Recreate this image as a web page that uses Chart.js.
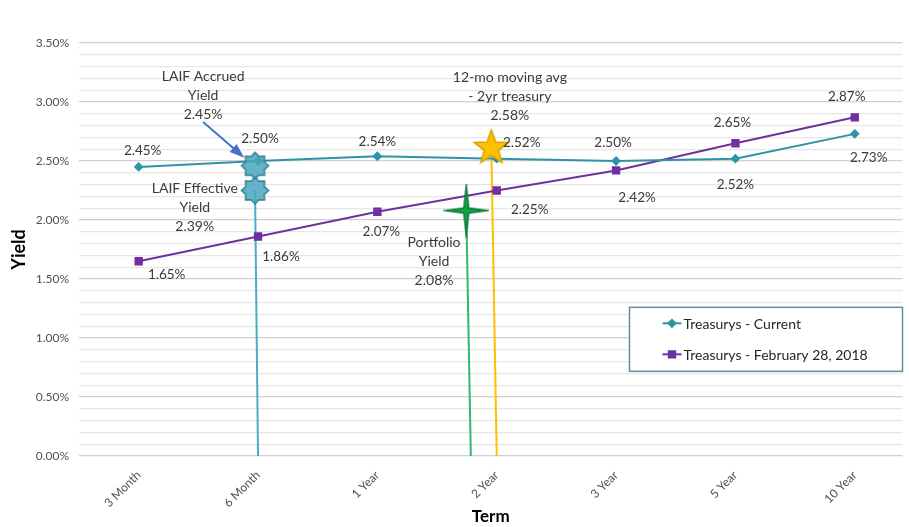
<!DOCTYPE html>
<html>
<head>
<meta charset="utf-8">
<script src="https://cdn.jsdelivr.net/npm/chart.js@4.4.0/dist/chart.umd.min.js"></script>
<style>
  html, body { margin: 0; padding: 0; background: #fff; }
  #wrap { width: 909px; height: 527px; }
</style>
</head>
<body>
<div id="wrap"><canvas id="yieldChart"></canvas></div>
<script>
var terms = ['3 Month', '6 Month', '1 Year', '2 Year', '3 Year', '5 Year', '10 Year'];
var currentYields = [2.45, 2.50, 2.54, 2.52, 2.50, 2.52, 2.73];
var feb2018Yields = [1.65, 1.86, 2.07, 2.25, 2.42, 2.65, 2.87];

// reference markers: label text, term position (index), yield where the marker sits
var laifAccrued = ['LAIF Accrued', 'Yield', '2.45%'];
var laifEffective = ['LAIF Effective', 'Yield', '2.39%'];
var portfolioYield = ['Portfolio', 'Yield', '2.08%'];
var movingAvg = ['12-mo moving avg', '- 2yr treasury', '2.58%'];
var laifTerm = [0.975, 0.975];
var laifMarkYield = [2.46, 2.25];
var portfolioTerm = 2.745, portfolioMarkYield = 2.08;
var avgTerm = 2.955, avgMarkYield = 2.61;

var TEAL = '#2e93aa';
var PURPLE = '#7030a0';
var FONT = 'Lato, "Open Sans", sans-serif';

// little canvases used as point styles for the stars
function starImage(n, rx, ry, inner, fill, stroke) {
  var c = document.createElement('canvas');
  c.width = Math.ceil(rx * 2 + 4);
  c.height = Math.ceil(ry * 2 + 4);
  var g = c.getContext('2d');
  var cx = c.width / 2, cy = c.height / 2;
  g.beginPath();
  for (var i = 0; i < n * 2; i++) {
    var a = -Math.PI / 2 + i * Math.PI / n;
    var ox = (i % 2 === 0) ? rx : inner;
    var oy = (i % 2 === 0) ? ry : inner;
    var px = cx + Math.cos(a) * ox, py = cy + Math.sin(a) * oy;
    if (i === 0) g.moveTo(px, py); else g.lineTo(px, py);
  }
  g.closePath();
  g.fillStyle = fill;
  g.fill();
  g.lineWidth = 1.5;
  g.strokeStyle = stroke;
  g.stroke();
  return c;
}
var sealStar = starImage(8, 13.5, 13.5, 10, 'rgba(75,165,190,0.85)', '#2f7f93');
var greenStar = starImage(4, 21, 25, 3.5, '#12a14a', '#0b7a35');
var goldStar = starImage(5, 18, 18, 7.5, '#ffc000', '#d9a000');

function pts(xs, ys) {
  return xs.map(function (x, i) { return { x: x, y: ys[i] }; });
}

// per-point label offsets in px
var currentLabelOffsets = [[4, -16], [2, -22], [0, -15], [25, -16], [-3, -18], [0, 26], [14, 24]];
var febLabelOffsets = [[28, 13], [23, 20], [4, 20], [33, 19], [21, 27], [-3, -21], [-8, -21]];

var notes = [
  { lines: laifAccrued, x: 0.54, y: 3.22 },
  { lines: laifEffective, x: 0.47, y: 2.27 },
  { lines: portfolioYield, x: 2.475, y: 1.81 },
  { lines: movingAvg, x: 3.11, y: 3.21 }
];

var overlayPlugin = {
  id: 'overlay',
  afterDatasetsDraw: function (chart) {
    var ctx = chart.ctx;
    var xs = chart.scales.x, ys = chart.scales.y;
    ctx.save();
    ctx.font = '13.5px ' + FONT;
    ctx.fillStyle = '#3a3a3a';
    ctx.textAlign = 'center';
    ctx.textBaseline = 'middle';

    // value labels
    [[0, currentLabelOffsets], [1, febLabelOffsets]].forEach(function (pair) {
      var meta = chart.getDatasetMeta(pair[0]);
      var vals = chart.data.datasets[pair[0]].data;
      meta.data.forEach(function (pt, i) {
        var off = pair[1][i];
        ctx.fillText(vals[i].y.toFixed(2) + '%', pt.x + off[0], pt.y + off[1]);
      });
    });

    // annotation texts
    ctx.font = '14px ' + FONT;
    notes.forEach(function (n) {
      var px = xs.getPixelForValue(n.x), py = ys.getPixelForValue(n.y);
      n.lines.forEach(function (t, i) { ctx.fillText(t, px, py + i * 19); });
    });

    // arrow from LAIF Accrued text to its star
    var ax0 = xs.getPixelForValue(0.54), ay0 = ys.getPixelForValue(2.83);
    var ax1 = xs.getPixelForValue(0.86), ay1 = ys.getPixelForValue(2.55);
    ctx.strokeStyle = '#4472c4';
    ctx.fillStyle = '#4472c4';
    ctx.lineWidth = 2;
    ctx.beginPath();
    ctx.moveTo(ax0, ay0);
    ctx.lineTo(ax1, ay1);
    ctx.stroke();
    var ang = Math.atan2(ay1 - ay0, ax1 - ax0);
    ctx.beginPath();
    ctx.moveTo(ax1 + Math.cos(ang) * 4, ay1 + Math.sin(ang) * 4);
    ctx.lineTo(ax1 - Math.cos(ang - 0.45) * 12, ay1 - Math.sin(ang - 0.45) * 12);
    ctx.lineTo(ax1 - Math.cos(ang + 0.45) * 12, ay1 - Math.sin(ang + 0.45) * 12);
    ctx.closePath();
    ctx.fill();

    // legend box
    var area = chart.chartArea;
    var bx = area.right - 273, by = ys.getPixelForValue(1.26), bw = 273, bh = 64;
    ctx.fillStyle = '#fff';
    ctx.fillRect(bx, by, bw, bh);
    ctx.strokeStyle = '#5f8f9c';
    ctx.lineWidth = 1.5;
    ctx.strokeRect(bx, by, bw, bh);
    var items = [
      { text: 'Treasurys - Current', color: TEAL, style: 'rectRot', r: 3.5 },
      { text: 'Treasurys - February 28, 2018', color: PURPLE, style: 'rect', r: 4.5 }
    ];
    ctx.font = '14px ' + FONT;
    ctx.textAlign = 'left';
    items.forEach(function (it, i) {
      var ly = by + 16 + i * 31;
      ctx.strokeStyle = it.color;
      ctx.lineWidth = 2;
      ctx.beginPath();
      ctx.moveTo(bx + 33, ly);
      ctx.lineTo(bx + 52, ly);
      ctx.stroke();
      ctx.fillStyle = it.color;
      Chart.helpers.drawPoint(ctx, { pointStyle: it.style, radius: it.r, borderWidth: 1 }, bx + 42.5, ly);
      ctx.fillStyle = '#262626';
      ctx.fillText(it.text, bx + 54, ly + 1);
    });
    ctx.restore();
  }
};

var chart = new Chart(document.getElementById('yieldChart'), {
  type: 'line',
  data: {
    datasets: [
      {
        label: 'Treasurys - Current',
        data: pts(terms.map(function (t, i) { return i; }), currentYields),
        borderColor: TEAL, backgroundColor: TEAL,
        borderWidth: 2, pointStyle: 'rectRot', pointRadius: 3.5,
        tension: 0, order: 2
      },
      {
        label: 'Treasurys - February 28, 2018',
        data: pts(terms.map(function (t, i) { return i; }), feb2018Yields),
        borderColor: PURPLE, backgroundColor: PURPLE,
        borderWidth: 2, pointStyle: 'rect', pointRadius: 4.5,
        tension: 0, order: 2
      },
      {
        label: 'LAIF line',
        data: [{ x: 1.0, y: 0 }, { x: laifTerm[1], y: laifMarkYield[1] }],
        borderColor: '#4bacc6', borderWidth: 2, pointRadius: 0, order: 3
      },
      {
        label: 'Portfolio line',
        data: [{ x: 2.783, y: 0 }, { x: portfolioTerm, y: portfolioMarkYield }],
        borderColor: '#2eb872', borderWidth: 2, pointRadius: 0, order: 3
      },
      {
        label: 'Avg line',
        data: [{ x: 3.0, y: 0 }, { x: avgTerm, y: avgMarkYield }],
        borderColor: '#ffc000', borderWidth: 2, pointRadius: 0, order: 3
      },
      {
        label: 'LAIF stars',
        data: pts(laifTerm, laifMarkYield),
        showLine: false, pointStyle: sealStar, order: 1
      },
      {
        label: 'Portfolio star',
        data: [{ x: portfolioTerm, y: portfolioMarkYield }],
        showLine: false, pointStyle: greenStar, order: 1
      },
      {
        label: 'Avg star',
        data: [{ x: avgTerm, y: avgMarkYield }],
        showLine: false, pointStyle: goldStar, order: 1
      }
    ]
  },
  options: {
    responsive: true,
    maintainAspectRatio: false,
    animation: false,
    events: [],
    layout: { padding: { top: 43, right: 2, left: 8, bottom: 0 } },
    plugins: { legend: { display: false }, tooltip: { enabled: false } },
    scales: {
      x: {
        type: 'linear',
        min: -0.5,
        max: 6.4,
        afterBuildTicks: function (scale) {
          scale.ticks = terms.map(function (t, i) { return { value: i }; });
        },
        afterFit: function (scale) { scale.height = 71; },
        ticks: {
          autoSkip: false, maxRotation: 45, minRotation: 45, padding: 4,
          color: '#505050', font: { family: FONT, size: 12 },
          callback: function (v) { return terms[v]; }
        },
        grid: { display: false },
        border: { display: false },
        title: {
          display: true, text: 'Term', color: '#000',
          font: { family: FONT, size: 17, weight: 'bold' }, padding: { top: 0, bottom: 0 }
        }
      },
      y: {
        min: 0,
        max: 3.5,
        afterBuildTicks: function (scale) {
          var t = [];
          for (var i = 0; i <= 35; i++) t.push({ value: i / 10 });
          scale.ticks = t;
        },
        afterFit: function (scale) { scale.width = 71; },
        ticks: {
          autoSkip: false, padding: 10,
          color: '#505050', font: { family: FONT, size: 12 },
          callback: function (v) {
            return Math.abs(v * 2 - Math.round(v * 2)) < 1e-6 ? v.toFixed(2) + '%' : '';
          }
        },
        grid: {
          drawTicks: false,
          color: function (c) {
            var v = c.tick ? c.tick.value : 0;
            return Math.abs(v * 2 - Math.round(v * 2)) < 1e-6 ? '#d0d0d0' : '#e6e6e6';
          },
          lineWidth: 1.3
        },
        border: { display: false },
        title: {
          display: true, text: 'Yield', color: '#000',
          font: { family: FONT, size: 18, weight: 'bold' }, padding: { top: 0, bottom: 4 }
        }
      }
    }
  },
  plugins: [overlayPlugin]
});
</script>
</body>
</html>
